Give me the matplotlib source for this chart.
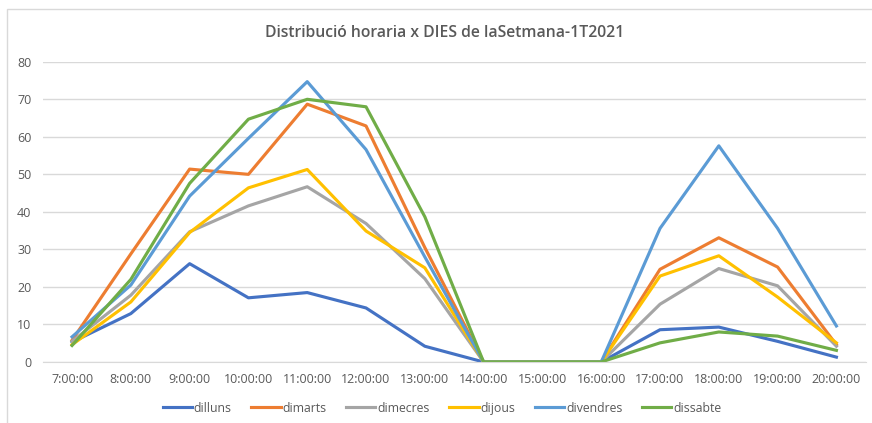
import numpy as np
import matplotlib.pyplot as plt
from matplotlib.patches import Rectangle

# dades
hores = ['7:00:00', '8:00:00', '9:00:00', '10:00:00', '11:00:00', '12:00:00', '13:00:00',
         '14:00:00', '15:00:00', '16:00:00', '17:00:00', '18:00:00', '19:00:00', '20:00:00']
dilluns = [5.3, 12.9, 26.2, 17.1, 18.5, 14.4, 4.2, 0, 0, 0, 8.6, 9.3, 5.5, 1.3]
dimarts = [5.8, 28.8, 51.4, 50.0, 68.7, 62.9, 30.5, 0, 0, 0, 24.7, 33.1, 25.3, 4.6]
dimecres = [5.5, 17.8, 34.7, 41.6, 46.7, 36.9, 22.2, 0, 0, 0, 15.4, 24.9, 20.3, 4.2]
dijous = [4.6, 16.0, 34.5, 46.4, 51.3, 34.9, 25.1, 0, 0, 0, 22.9, 28.3, 17.3, 5.1]
divendres = [6.7, 20.5, 44.2, 59.6, 74.7, 56.6, 28.0, 0, 0, 0, 35.6, 57.6, 35.6, 9.6]
dissabte = [4.4, 22.0, 47.6, 64.7, 70.0, 68.0, 38.7, 0, 0, 0, 5.1, 8.0, 6.9, 3.1]

series = [('dilluns', dilluns, '#4472C4'),
          ('dimarts', dimarts, '#ED7D31'),
          ('dimecres', dimecres, '#A5A5A5'),
          ('dijous', dijous, '#FFC000'),
          ('divendres', divendres, '#5B9BD5'),
          ('dissabte', dissabte, '#70AD47')]

plt.rcParams['font.family'] = ['Open Sans', 'DejaVu Sans']
txt = '#595959'

fig = plt.figure(figsize=(8.72, 4.23), dpi=100)
ax = fig.add_axes([0.0489, 0.1442, 0.944, 0.7098])

x = np.arange(len(hores))
for nom, vals, col in series:
    ax.plot(x, vals, color=col, linewidth=2.25, label=nom)

ax.set_xlim(-0.5, len(hores) - 0.5)
ax.set_ylim(0, 80)
ax.set_yticks(range(0, 81, 10))
ax.set_xticks(x)
ax.set_xticklabels(hores)
ax.grid(axis='y', color='#D9D9D9', linewidth=1)
ax.set_axisbelow(True)
for s in ['top', 'right', 'left']:
    ax.spines[s].set_visible(False)
ax.spines['bottom'].set_color('#D9D9D9')
ax.tick_params(axis='both', length=0, colors=txt, labelsize=9, pad=8)

fig.suptitle('Distribució horaria x DIES de laSetmana-1T2021', x=0.51, y=0.94,
             fontsize=11.3, fontweight='semibold', color=txt)

ax.legend(loc='upper center', bbox_to_anchor=(0.485, -0.095), ncol=6, frameon=False,
          fontsize=8.8, labelcolor=txt, handlelength=2.4, handletextpad=0.15,
          columnspacing=1.6)

fig.patches.append(Rectangle((7 / 872, -0.1), 1.2, 1 - 9 / 423 + 0.1, transform=fig.transFigure,
                             fill=False, edgecolor='#D9D9D9', linewidth=1))

plt.savefig('out.png', dpi=100)
